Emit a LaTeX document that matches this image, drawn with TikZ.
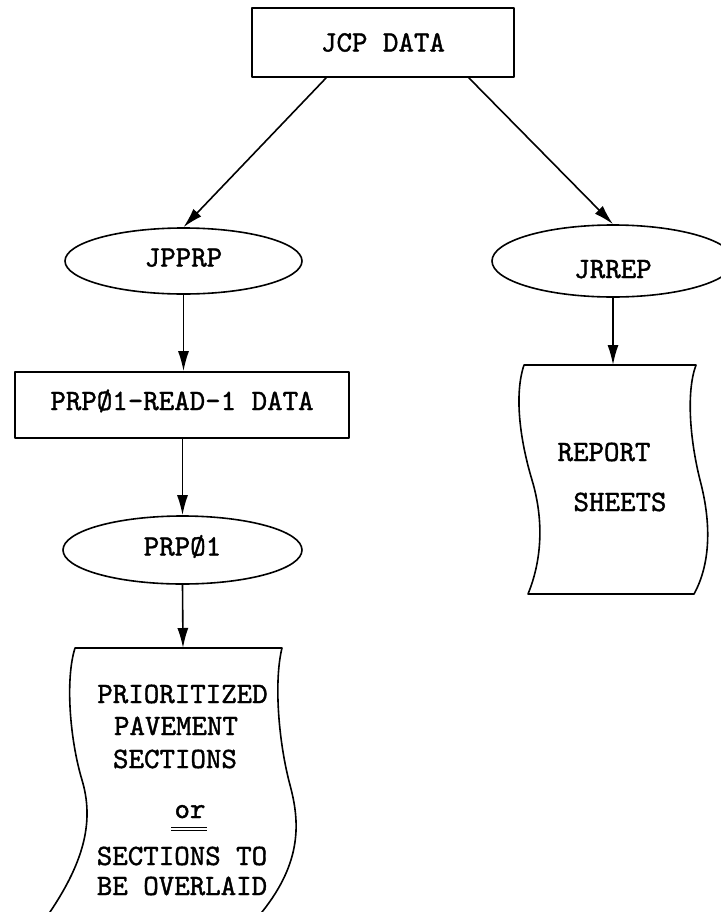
\documentclass[tikz,border=0pt]{standalone}
\usepackage{fontspec}
\newfontfamily\typewriter{lmmono10-regular.otf}[FakeBold=1.4]
\usetikzlibrary{shapes.geometric,arrows.meta,calc}
\begin{document}
\begin{tikzpicture}[x=1bp,y=-1bp,
  every node/.style={font=\fontsize{29.6}{32}\selectfont\typewriter\bfseries,
                     text height=18bp, text depth=0bp},
  line/.style={line width=1.6bp, line join=round},
  flow/.style={line, -{Latex[length=20bp,width=11bp]}},
  databox/.style={draw, line, rectangle, inner sep=0pt},
  prog/.style={draw, line, ellipse, inner sep=0pt},
  txt/.style={inner sep=0pt, anchor=base},
  sheet/.style={line}]
\useasboundingbox (0,0) rectangle (721,912);
\begin{scope}
\clip (0,0) rectangle (721,912);

% data sets and programs
\node[databox, minimum width=262bp, minimum height=69bp] (jcp) at (383,42.5) {JCP DATA};
\node[prog, minimum width=237bp, minimum height=66bp, text depth=7bp] (jpprp) at (183.5,261) {JPPRP};
\node[prog, minimum width=242bp, minimum height=72bp, text height=34bp] (jrrep) at (613,261) {JRREP};
\node[databox, minimum width=334bp, minimum height=66bp, text depth=8bp] (prp) at (182,405) {PRPØ1-READ-1 DATA};
\node[prog, minimum width=239bp, minimum height=68bp, text depth=7bp] (prp01) at (182.5,550) {PRPØ1};

% report document
\coordinate (rtop) at (613,365);
\draw[sheet] (524,365) -- (696,365)
  .. controls (686,392) and (690,440) .. (700,480)
  .. controls (712,525) and (710,565) .. (694,594)
  -- (528,594)
  .. controls (542,560) and (544,520) .. (532,480)
  .. controls (520,440) and (514,395) .. (524,365) -- cycle;
\node[txt] (rep1) at (604,461) {REPORT};
\node[txt] (rep2) at (620,511) {SHEETS};

% prioritized sections document
\coordinate (ptop) at (183,648);
\draw[sheet] (75,648) -- (282,648)
  .. controls (274,680) and (278,740) .. (290,785)
  .. controls (300,822) and (302,862) .. (262,912)
  -- (246,933) -- (36,933) -- (50,912)
  .. controls (85,860) and (94,820) .. (82,780)
  .. controls (70,740) and (65,680) .. (75,648) -- cycle;
\node[txt] (p1) at (182.5,703) {PRIORITIZED};
\node[txt] (p2) at (176,735) {PAVEMENT};
\node[txt] (p3) at (175,768) {SECTIONS};
\node[txt] (por) at (190,818) {or};
\node[txt] (p4) at (182,865) {SECTIONS TO};
\node[txt] (p5) at (182,895) {BE OVERLAID};
\draw[line width=0.9bp] ($(por.base west)+(-3,9)$) -- ($(por.base east)+(1,9)$);
\draw[line width=0.9bp] ($(por.base west)+(-3,12)$) -- ($(por.base east)+(1,12)$);

% flow
\draw[flow] ($(jcp.south west)+(75,0)$) -- (jpprp.north);
\draw[flow] ($(jcp.south east)+(-46,0)$) -- (jrrep.north);
\draw[flow] (jpprp.south) -- (jpprp.south |- prp.north);
\draw[flow] (prp.south -| prp01.north) -- (prp01.north);
\draw[flow] (prp01.south) -- (ptop);
\draw[flow] (jrrep.south) -- (rtop);
\end{scope}
\end{tikzpicture}
\end{document}
